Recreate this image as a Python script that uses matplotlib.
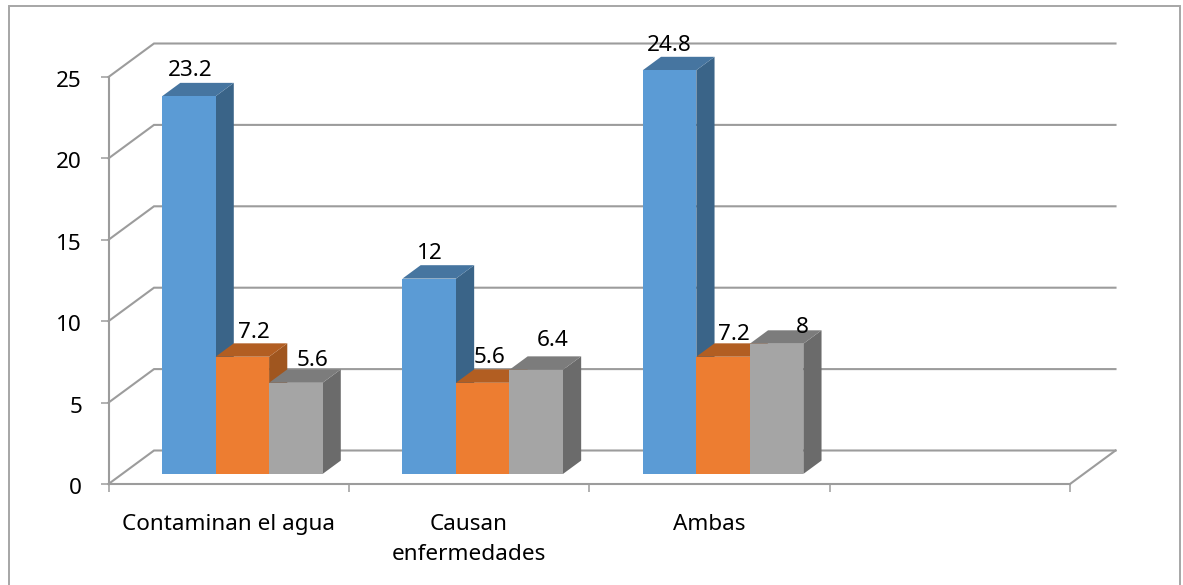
import matplotlib
matplotlib.use("Agg")
import matplotlib.pyplot as plt
from matplotlib.patches import Polygon, Rectangle
from matplotlib.transforms import ScaledTranslation

# Chart data
categories = ["Contaminan el agua", "Causan\nenfermedades", "Ambas"]
series_blue = [23.2, 12, 24.8]
series_orange = [7.2, 5.6, 7.2]
series_gray = [5.6, 6.4, 8]
y_ticks = [0, 5, 10, 15, 20, 25]

# Face colours per series: front, side, top
styles = [
    ("#5B9BD5", "#3A6488", "#4675A0"),
    ("#ED7D31", "#A0561F", "#B25E22"),
    ("#A5A5A5", "#6B6B6B", "#7C7C7C"),
]
# Hand-placed data label nudges, in pixels from the bar's top centre
label_nudges = [
    [(1, 26), (1, 25), (0, 25)],
    [(12, 24), (7, 25), (11, 22)],
    [(17, 22), (16, 29), (26, 16)],
]

W, H = 1183, 585
LEFT, RIGHT, BASE, TOP = 108.5, 1070.0, 484.0, 77.0
GRID = "#9C9C9C"
FONT = "Noto Sans"
FS = 16.2

fig = plt.figure(figsize=(W / 100, H / 100), dpi=100)
fig.patch.set_facecolor("white")
fig.add_artist(Rectangle((8.5 / W, -0.01), (1180 - 8.5) / W, 1.01 - 6 / H,
                         transform=fig.transFigure, fill=False,
                         edgecolor="#A6A6A6", linewidth=1.4))

ax = fig.add_axes([LEFT / W, 1 - BASE / H, (RIGHT - LEFT) / W, (BASE - TOP) / H])
ax.set_xlim(0, 4)
ax.set_ylim(0, 25)
ax.patch.set_visible(False)

# Oblique projection: full chart depth expressed in data units
px_x = 4 / (RIGHT - LEFT)
px_y = 25 / (BASE - TOP)
DX = 45.5 * px_x
DY = 33.5 * px_y

# Back wall gridlines and the left wall diagonals
for v in y_ticks:
    ax.plot([0, DX, 4 + DX], [v, v + DY, v + DY], color=GRID, lw=1.5,
            clip_on=False, zorder=1, solid_joinstyle="miter")
ax.plot([4, 4 + DX], [0, DY], color=GRID, lw=1.5, clip_on=False, zorder=1)

# Bars: front face from bar(), side and top faces sheared back by the depth
BAR_W = 53.5 * px_x
D0, D1 = 0.30, 0.70
series = [series_blue, series_orange, series_gray]
z = 3
for c in range(len(categories)):
    for s, values in enumerate(series):
        v = values[c]
        front, side, top = styles[s]
        x0 = c + 0.5 - 1.5 * BAR_W + s * BAR_W + D0 * DX
        x1 = x0 + BAR_W
        y0 = D0 * DY
        y1 = y0 + v
        dx, dy = (D1 - D0) * DX, (D1 - D0) * DY
        ax.add_patch(Polygon([(x1, y0), (x1 + dx, y0 + dy), (x1 + dx, y1 + dy), (x1, y1)],
                             closed=True, facecolor=side, edgecolor="none",
                             clip_on=False, zorder=z))
        ax.add_patch(Polygon([(x0, y1), (x1, y1), (x1 + dx, y1 + dy), (x0 + dx, y1 + dy)],
                             closed=True, facecolor=top, edgecolor="none",
                             clip_on=False, zorder=z))
        ax.bar(x0, v, width=BAR_W, bottom=y0, align="edge", color=front,
               linewidth=0, clip_on=False, zorder=z + 0.5)
        z += 1
        nx, ny = label_nudges[s][c]
        ax.annotate(f"{v:g}", xy=(x0 + BAR_W / 2, y1), xytext=(nx, ny),
                    textcoords="offset pixels", ha="center", va="center",
                    fontsize=FS, family=FONT, color="black", zorder=50,
                    annotation_clip=False)

# Axes frame, ticks and labels
for name in ("top", "right"):
    ax.spines[name].set_visible(False)
for name in ("left", "bottom"):
    ax.spines[name].set_color(GRID)
    ax.spines[name].set_linewidth(1.5)
    ax.spines[name].set_zorder(2)

ax.set_yticks(y_ticks)
ax.set_yticklabels([str(t) for t in y_ticks], fontsize=FS, family=FONT)
ax.tick_params(axis="y", length=6, width=1.1, color=GRID, pad=13)
# Value labels sit slightly below their tick marks
for label in ax.get_yticklabels():
    label.set_transform(label.get_transform()
                        + ScaledTranslation(0, -2 / 100, fig.dpi_scale_trans))

ax.set_xticks(range(5))
ax.set_xticklabels([])
ax.set_xticks([c + 0.5 for c in range(len(categories))], minor=True)
ax.set_xticklabels(categories, minor=True, fontsize=FS, family=FONT,
                   linespacing=1.6, va="top")
ax.tick_params(axis="x", which="major", length=6, width=1.1, color=GRID)
ax.tick_params(axis="x", which="minor", length=0, pad=21.5)

fig.savefig("out.png", dpi=100)
